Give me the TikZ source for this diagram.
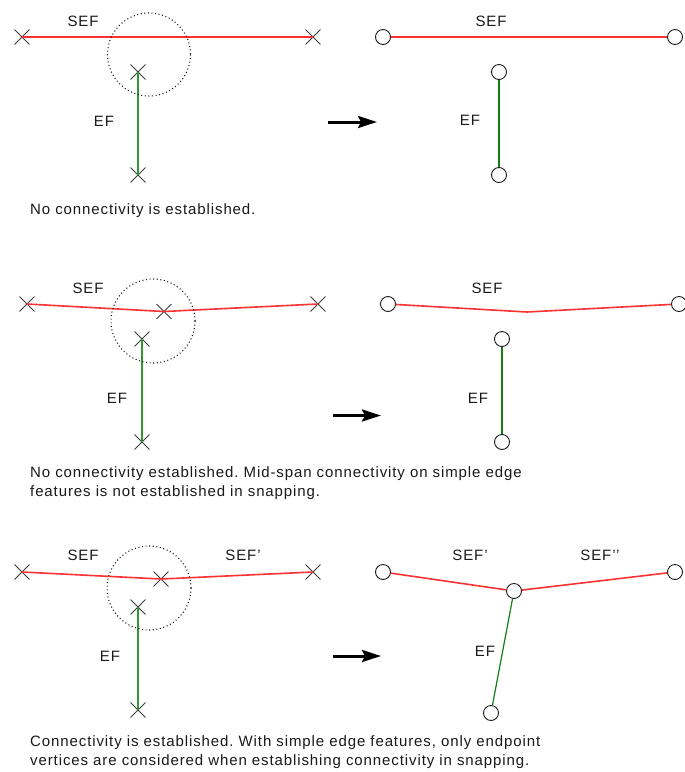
\documentclass[tikz,border=0pt]{standalone}
\usepackage{fontspec}
\setmainfont{Liberation Sans}[LetterSpace=6]
\usetikzlibrary{shapes.misc,arrows.meta}
\definecolor{sefred}{RGB}{250,50,50}
\definecolor{efgreen}{RGB}{50,150,50}
\definecolor{efdark}{RGB}{20,125,20}
\definecolor{ink}{RGB}{25,25,25}
% straight apostrophe for the primed labels
\newcommand{\prm}{{\char39}}
\begin{document}
\frenchspacing
\begin{tikzpicture}[x=1pt,y=-1pt,
  font=\fontsize{15}{19}\selectfont,
  vtx/.style={cross out,draw=ink!85,line width=0.9pt,minimum size=14pt,inner sep=0pt},
  junction/.style={circle,draw=ink,fill=white,line width=0.9pt,minimum size=15pt,inner sep=0pt},
  sef/.style={draw=sefred,line width=1.6pt},
  efl/.style={draw=efgreen,line width=1.7pt},
  efr/.style={draw=efdark,line width=1.2pt},
  snap/.style={draw=ink,line width=1.1pt,dash pattern=on 1pt off 2.6pt},
  lbl/.style={text=ink,inner sep=0pt},
  note/.style={text=ink,inner sep=0pt,anchor=base west},
  goes/.style={line width=3pt,-{Stealth[length=19pt,width=12pt,inset=3pt]}}]
\useasboundingbox (0,0) rectangle (685,772);

% ---------- row 1: no connectivity ----------
\node[vtx] (a1l) at (22,37) {};
\node[vtx] (a1r) at (313,37) {};
\node[vtx] (a1t) at (138,72) {};
\node[vtx] (a1b) at (138,175) {};
\draw[sef] (a1l.center) -- (a1r.center);
\draw[efl] (a1t.center) -- (a1b.center);
\draw[snap] (149,54.5) circle[radius=41.5];
\node[lbl] (a1s) at (83,21) {SEF};
\node[lbl] (a1e) at (104,121) {EF};
\coordinate (a1p) at (328,122);
\coordinate (a1q) at (377,122);
\draw[goes] (a1p) -- (a1q);
\node[junction] (b1l) at (383,37) {};
\node[junction] (b1r) at (675,37) {};
\node[junction] (b1t) at (499,72) {};
\node[junction] (b1b) at (499,175) {};
\draw[sef] (b1l) -- (b1r);
\draw[efr] (b1t) -- (b1b);
\node[lbl] (b1s) at (491,21) {SEF};
\node[lbl] (b1e) at (470,120) {EF};
\node[note] (t1) at (30,214.5) {No connectivity is established.};

% ---------- row 2: mid-span vertex ----------
\node[vtx] (a2l) at (27,304) {};
\node[vtx] (a2m) at (164,311.5) {};
\node[vtx] (a2r) at (318,304) {};
\node[vtx] (a2t) at (142,339) {};
\node[vtx] (a2b) at (142,442) {};
\draw[sef] (a2l.center) -- (a2m.center) -- (a2r.center);
\draw[efl] (a2t.center) -- (a2b.center);
\draw[snap] (153,321) circle[radius=42];
\node[lbl] (a2s) at (88,288) {SEF};
\node[lbl] (a2e) at (117,398) {EF};
\coordinate (a2p) at (333,415.5);
\coordinate (a2q) at (381,415.5);
\draw[goes] (a2p) -- (a2q);
\node[junction] (b2l) at (388,304) {};
\node[junction] (b2r) at (679,304) {};
\coordinate (b2m) at (527,312);
\node[junction] (b2t) at (502,339) {};
\node[junction] (b2b) at (502,442) {};
\draw[sef] (b2l) -- (b2m) -- (b2r);
\draw[efr] (b2t) -- (b2b);
\node[lbl] (b2s) at (487,288) {SEF};
\node[lbl] (b2e) at (478,398) {EF};
\node[note] (t2a) at (30,477.5) {No connectivity established. Mid-span connectivity on simple edge};
\node[note] (t2b) at (30,496.5) {features is not established in snapping.};

% ---------- row 3: endpoint snapping ----------
\node[vtx] (a3l) at (22,572) {};
\node[vtx] (a3m) at (161,579) {};
\node[vtx] (a3r) at (313,572) {};
\node[vtx] (a3t) at (138,607) {};
\node[vtx] (a3b) at (138,710) {};
\draw[sef] (a3l.center) -- (a3m.center) -- (a3r.center);
\draw[efl] (a3t.center) -- (a3b.center);
\draw[snap] (149,588) circle[radius=42];
\node[lbl] (a3s) at (83,555) {SEF};
\node[lbl] (a3u) at (243,555) {SEF\prm};
\node[lbl] (a3e) at (110,656) {EF};
\coordinate (a3p) at (333,656);
\coordinate (a3q) at (381,656);
\draw[goes] (a3p) -- (a3q);
\node[junction] (b3l) at (383,572) {};
\node[junction] (b3m) at (514,591) {};
\node[junction] (b3r) at (675,572) {};
\node[junction] (b3b) at (491,713) {};
\draw[sef] (b3l) -- (b3m) -- (b3r);
\draw[efr] (b3m) -- (b3b);
\node[lbl] (b3s) at (470,555) {SEF\prm};
\node[lbl] (b3u) at (600,555) {SEF\prm\prm};
\node[lbl] (b3e) at (485,651) {EF};
\node[note] (t3a) at (30,746) {Connectivity is established. With simple edge features, only endpoint};
\node[note] (t3b) at (30,765) {vertices are considered when establishing connectivity in snapping.};
\end{tikzpicture}
\end{document}
